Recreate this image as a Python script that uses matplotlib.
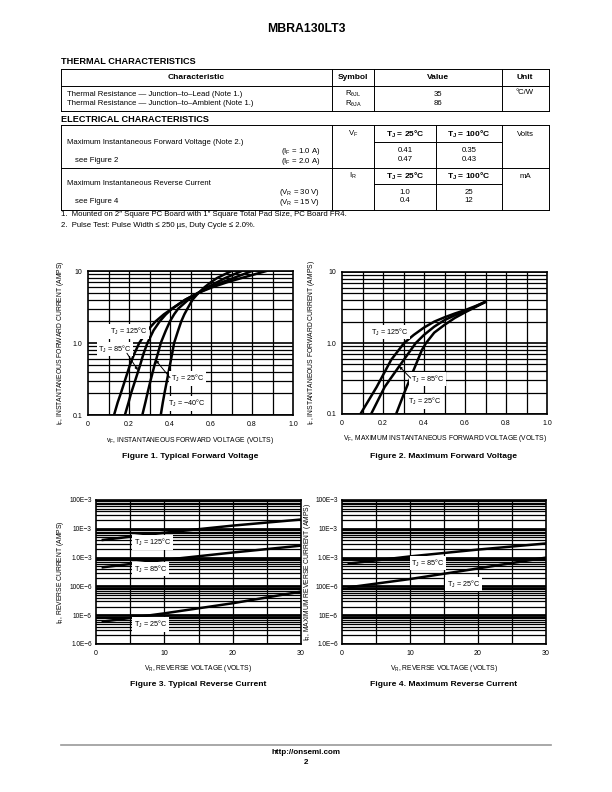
import numpy as np
import matplotlib
matplotlib.use('Agg')
import matplotlib.pyplot as plt
from matplotlib.lines import Line2D
from matplotlib.ticker import NullFormatter

plt.rcParams['font.family'] = ['Liberation Sans', 'DejaVu Sans']
plt.rcParams['mathtext.default'] = 'regular'

W, H = 612, 792

# ---- data ----
# Figure 1: typical forward voltage (V, A)
f1_if = [0.1, 0.15, 0.2, 0.3, 0.5, 0.7, 1.0, 1.5, 2.0, 2.5, 3.0, 4.0, 5.0, 6.0, 7.0, 8.0, 10.0]
f1_vf_m40 = [0.355, 0.365, 0.373, 0.385, 0.40, 0.41, 0.42, 0.44, 0.455, 0.47, 0.485, 0.51, 0.54, 0.57, 0.60, 0.63, 0.70]
f1_vf_25 = [0.265, 0.28, 0.29, 0.305, 0.325, 0.34, 0.355, 0.38, 0.40, 0.42, 0.44, 0.49, 0.54, 0.585, 0.63, 0.67, 0.75]
f1_vf_85 = [0.18, 0.198, 0.21, 0.23, 0.255, 0.27, 0.29, 0.32, 0.35, 0.38, 0.41, 0.475, 0.54, 0.60, 0.655, 0.71, 0.80]
f1_vf_125 = [0.127, 0.145, 0.16, 0.18, 0.205, 0.225, 0.25, 0.29, 0.33, 0.37, 0.41, 0.475, 0.54, 0.61, 0.68, 0.75, 0.87]

# Figure 2: maximum forward voltage
f2_vf_25 = [0.264, 0.303, 0.35, 0.39, 0.41, 0.45, 0.50, 0.55, 0.60, 0.65, 0.70]
f2_if_25 = [0.1, 0.196, 0.42, 0.8, 1.0, 1.4, 1.8, 2.25, 2.7, 3.2, 3.8]
f2_vf_85 = [0.142, 0.208, 0.279, 0.36, 0.40, 0.45, 0.50, 0.55, 0.60, 0.65, 0.70]
f2_if_85 = [0.1, 0.24, 0.47, 1.0, 1.3, 1.7, 2.1, 2.45, 2.8, 3.25, 3.8]
f2_vf_125 = [0.09, 0.169, 0.24, 0.303, 0.35, 0.40, 0.45, 0.50, 0.55, 0.60, 0.65, 0.70]
f2_if_125 = [0.1, 0.24, 0.58, 1.0, 1.3, 1.65, 2.0, 2.3, 2.6, 2.9, 3.3, 3.8]

# Figure 3: typical reverse current (V, A)
f3_vr = [1, 10, 20, 30]
f3_ir_125 = [4.1e-3, 7.3e-3, 12.9e-3, 21e-3]
f3_ir_85 = [0.46e-3, 0.83e-3, 1.5e-3, 2.6e-3]
f3_ir_25 = [6e-6, 11.6e-6, 26e-6, 66e-6]

# Figure 4: maximum reverse current
f4_vr = [1, 10, 20, 30]
f4_ir_85 = [0.62e-3, 1.1e-3, 1.9e-3, 3.1e-3]
f4_ir_25 = [93e-6, 180e-6, 420e-6, 1.0e-3]

ir_ticks = [1e-6, 1e-5, 1e-4, 1e-3, 1e-2, 1e-1]
ir_tick_labels = ['1.0E\u22126', '10E\u22126', '100E\u22126', '1.0E\u22123', '10E\u22123', '100E\u22123']

fig = plt.figure(figsize=(W / 100, H / 100), dpi=100)


def fx(x):
    return x / W


def fy(y):
    return 1 - y / H


def line(x0, y0, x1, y1, lw=0.7, color='black'):
    fig.add_artist(Line2D([fx(x0), fx(x1)], [fy(y0), fy(y1)], lw=lw, color=color))


def txt(x, y, s, size=5.6, ha='left', weight='normal', **kw):
    fig.text(fx(x), fy(y), s, fontsize=size, ha=ha, va='center', weight=weight, **kw)


def box(x0, y0, x1, y1):
    line(x0, y0, x1, y0)
    line(x0, y1, x1, y1)
    line(x0, y0, x0, y1)
    line(x1, y0, x1, y1)


# ---- header ----
txt(306, 29, 'MBRA130LT3', size=8.8, ha='center', weight='bold')

# ---- thermal table ----
txt(61, 61, 'THERMAL CHARACTERISTICS', size=6.6, weight='bold')
box(61, 69, 549, 111)
line(61, 86, 549, 86)
for xv in [332, 374, 502]:
    line(xv, 69, xv, 111)
txt(196, 77.5, 'Characteristic', size=6.0, ha='center', weight='bold')
txt(353, 77.5, 'Symbol', size=6.0, ha='center', weight='bold')
txt(438, 77.5, 'Value', size=6.0, ha='center', weight='bold')
txt(525, 77.5, 'Unit', size=6.0, ha='center', weight='bold')
txt(67, 94, 'Thermal Resistance \u2014 Junction\u2013to\u2013Lead (Note 1.)')
txt(67, 103.5, 'Thermal Resistance \u2014 Junction\u2013to\u2013Ambient (Note 1.)')
txt(353, 94, r'R$_{\theta JL}$', ha='center')
txt(353, 103.5, r'R$_{\theta JA}$', ha='center')
txt(438, 94, '35', ha='center')
txt(438, 103.5, '86', ha='center')
txt(525, 93, '\u00b0C/W', ha='center')

# ---- electrical table ----
txt(61, 119, 'ELECTRICAL CHARACTERISTICS', size=6.6, weight='bold')
box(61, 125, 549, 210)
line(61, 168, 549, 168)
line(374, 142, 502, 142)
line(374, 184, 502, 184)
for xv in [332, 374, 436, 502]:
    line(xv, 125, xv, 210)

txt(67, 142, 'Maximum Instantaneous Forward Voltage (Note 2.)')
txt(320, 151.5, r'(I$_F$ = 1.0 A)', ha='right')
txt(75, 161, 'see Figure 2')
txt(320, 161.5, r'(I$_F$ = 2.0 A)', ha='right')
txt(353, 134, r'V$_F$', ha='center')
txt(405, 134, 'T$_J$ = 25\u00b0C', size=6.0, ha='center', weight='bold')
txt(469, 134, 'T$_J$ = 100\u00b0C', size=6.0, ha='center', weight='bold')
txt(525, 134, 'Volts', ha='center')
txt(405, 150.5, '0.41', ha='center')
txt(405, 159.5, '0.47', ha='center')
txt(469, 150.5, '0.35', ha='center')
txt(469, 159.5, '0.43', ha='center')

txt(67, 183.5, 'Maximum Instantaneous Reverse Current')
txt(320, 192.5, r'(V$_R$ = 30 V)', ha='right')
txt(75, 202, 'see Figure 4')
txt(320, 202.5, r'(V$_R$ = 15 V)', ha='right')
txt(353, 176, r'I$_R$', ha='center')
txt(405, 176, 'T$_J$ = 25\u00b0C', size=6.0, ha='center', weight='bold')
txt(469, 176, 'T$_J$ = 100\u00b0C', size=6.0, ha='center', weight='bold')
txt(525, 176, 'mA', ha='center')
txt(405, 192, '1.0', ha='center')
txt(405, 201, '0.4', ha='center')
txt(469, 192, '25', ha='center')
txt(469, 201, '12', ha='center')

txt(61, 215, '1.  Mounted on 2\u2033 Square PC Board with 1\u2033 Square Total Pad Size, PC Board FR4.')
txt(61, 225, '2.  Pulse Test: Pulse Width \u2264 250 \u00b5s, Duty Cycle \u2264 2.0%.')


# ---- charts ----
def make_ax(x0, y0, x1, y1, size=5.0, pad=4):
    ax = fig.add_axes([fx(x0), fy(y1), fx(x1) - fx(x0), (y1 - y0) / H])
    for s in ax.spines.values():
        s.set_linewidth(1.2)
    ax.tick_params(length=0, labelsize=size, pad=pad)
    return ax


def fwd_grid(ax):
    ax.set_yscale('log')
    ax.set_xlim(0, 1.0)
    ax.set_ylim(0.1, 10)
    ax.set_xticks([0, 0.2, 0.4, 0.6, 0.8, 1.0])
    ax.set_xticklabels(['0', '0.2', '0.4', '0.6', '0.8', '1.0'])
    ax.set_yticks([0.1, 1, 10])
    ax.set_yticklabels(['0.1', '1.0', '10'])
    ax.yaxis.set_minor_formatter(NullFormatter())
    for v in np.arange(0.1, 1.0, 0.1):
        ax.axvline(v, color='black', lw=0.9, zorder=1)
    ax.grid(True, which='minor', axis='y', color='black', lw=0.9, zorder=1)
    ax.grid(True, which='major', axis='y', color='black', lw=1.2, zorder=1)
    ax.tick_params(which='minor', length=0)


def rev_grid(ax):
    ax.set_yscale('log')
    ax.set_xlim(0, 30)
    ax.set_ylim(1e-6, 1e-1)
    ax.set_xticks([0, 10, 20, 30])
    ax.set_xticklabels(['0', '10', '20', '30'])
    ax.set_yticks(ir_ticks)
    ax.set_yticklabels(ir_tick_labels)
    ax.yaxis.set_minor_formatter(NullFormatter())
    for v in [5, 10, 15, 20, 25]:
        ax.axvline(v, color='black', lw=0.9, zorder=1)
    ax.grid(True, which='minor', axis='y', color='black', lw=0.9, zorder=1)
    ax.grid(True, which='major', axis='y', color='black', lw=2.0, zorder=1)
    ax.tick_params(which='minor', length=0)


lab = dict(fontsize=5.2, va='center', zorder=5,
           bbox=dict(fc='white', ec='none', pad=1.2))
arr = dict(arrowstyle='-|>', color='black', lw=0.7, mutation_scale=4, shrinkA=0, shrinkB=0)

# Figure 1
ax1 = make_ax(88, 271, 293, 415)
fwd_grid(ax1)
for v in [f1_vf_m40, f1_vf_25, f1_vf_85, f1_vf_125]:
    ax1.plot(v, f1_if, color='black', lw=1.8, zorder=3)
ax1.text(0.105, 1.45, 'T$_J$ = 125\u00b0C', **lab)
ax1.text(0.05, 0.82, 'T$_J$ = 85\u00b0C', **lab)
ax1.text(0.405, 0.32, 'T$_J$ = 25\u00b0C', **lab)
ax1.text(0.39, 0.145, 'T$_J$ = \u221240\u00b0C', **lab)
ax1.annotate('', xy=(0.243, 0.42), xytext=(0.19, 0.72), arrowprops=arr, zorder=6)
ax1.annotate('', xy=(0.33, 0.58), xytext=(0.40, 0.33), arrowprops=arr, zorder=6)
ax1.set_xlabel(r'v$_F$, INSTANTANEOUS FORWARD VOLTAGE (VOLTS)', fontsize=4.9, labelpad=5)
ax1.set_ylabel(r'i$_F$, INSTANTANEOUS FORWARD CURRENT (AMPS)', fontsize=4.9)
ax1.yaxis.set_label_coords(-0.105, 0.5)
txt(190, 457, 'Figure 1. Typical Forward Voltage', size=6.1, ha='center', weight='bold')

# Figure 2
ax2 = make_ax(342, 272, 547, 414)
fwd_grid(ax2)
for v, i in [(f2_vf_25, f2_if_25), (f2_vf_85, f2_if_85), (f2_vf_125, f2_if_125)]:
    ax2.plot(v, i, color='black', lw=1.8, zorder=3)
ax2.text(0.14, 1.42, 'T$_J$ = 125\u00b0C', **lab)
ax2.text(0.335, 0.31, 'T$_J$ = 85\u00b0C', **lab)
ax2.text(0.32, 0.15, 'T$_J$ = 25\u00b0C', **lab)
ax2.annotate('', xy=(0.279, 0.47), xytext=(0.335, 0.32), arrowprops=arr, zorder=6)
ax2.set_xlabel(r'V$_F$, MAXIMUM INSTANTANEOUS FORWARD VOLTAGE (VOLTS)', fontsize=4.9, labelpad=5)
ax2.set_ylabel(r'I$_F$, INSTANTANEOUS FORWARD CURRENT (AMPS)', fontsize=4.9)
ax2.yaxis.set_label_coords(-0.12, 0.5)
txt(444, 457, 'Figure 2. Maximum Forward Voltage', size=6.1, ha='center', weight='bold')

# Figure 3
ax3 = make_ax(96, 500, 301, 644, size=4.7, pad=3)
rev_grid(ax3)
for i in [f3_ir_125, f3_ir_85, f3_ir_25]:
    ax3.plot(f3_vr, i, color='black', lw=1.8, zorder=3)
ax3.tick_params(axis='x', labelsize=5.0, pad=4)
ax3.text(5.5, 3.3e-3, 'T$_J$ = 125\u00b0C', **lab)
ax3.text(5.5, 0.4e-3, 'T$_J$ = 85\u00b0C', **lab)
ax3.text(5.5, 4.8e-6, 'T$_J$ = 25\u00b0C', **lab)
ax3.set_xlabel(r'V$_R$, REVERSE VOLTAGE (VOLTS)', fontsize=4.9, labelpad=5)
ax3.set_ylabel(r'I$_R$, REVERSE CURRENT (AMPS)', fontsize=4.9)
ax3.yaxis.set_label_coords(-0.145, 0.5)
txt(198, 685, 'Figure 3. Typical Reverse Current', size=6.1, ha='center', weight='bold')

# Figure 4
ax4 = make_ax(342, 500, 546, 644, size=4.7, pad=3)
rev_grid(ax4)
for i in [f4_ir_85, f4_ir_25]:
    ax4.plot(f4_vr, i, color='black', lw=1.8, zorder=3)
ax4.tick_params(axis='x', labelsize=5.0, pad=4)
ax4.text(10.2, 0.65e-3, 'T$_J$ = 85\u00b0C', **lab)
ax4.text(15.4, 0.12e-3, 'T$_J$ = 25\u00b0C', **lab)
ax4.set_xlabel(r'V$_R$, REVERSE VOLTAGE (VOLTS)', fontsize=4.9, labelpad=5)
ax4.set_ylabel(r'I$_R$, MAXIMUM REVERSE CURRENT (AMPS)', fontsize=4.9)
ax4.yaxis.set_label_coords(-0.14, 0.5)
txt(444, 685, 'Figure 4. Maximum Reverse Current', size=6.1, ha='center', weight='bold')

# ---- footer ----
line(61, 745, 551, 745, lw=1.2, color='#999999')
txt(306, 752, 'http://onsemi.com', size=5.8, ha='center', weight='bold')
txt(306, 762, '2', size=5.8, ha='center', weight='bold')

fig.savefig('out.png', dpi=100)
